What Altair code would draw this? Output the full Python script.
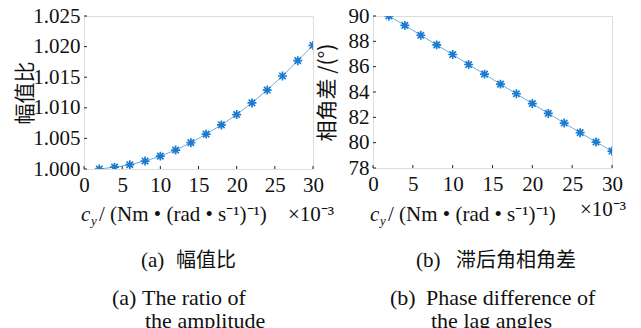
import altair as alt
import pandas as pd

# ---- data ----
cy = [2, 4, 6, 8, 10, 12, 14, 16, 18, 20, 22, 24, 26, 28, 30]
amp_ratio = [1.0000, 1.0003, 1.0007, 1.0013, 1.0021, 1.0031, 1.0043, 1.0057,
             1.0072, 1.0089, 1.0108, 1.0129, 1.0152, 1.0177, 1.0202]
phase_diff = [90.0, 89.26, 88.48, 87.72, 86.96, 86.17, 85.41, 84.62,
              83.86, 83.09, 82.31, 81.55, 80.79, 80.05, 79.34]

x_ticks = [0, 5, 10, 15, 20, 25, 30]
amp_ticks = [1.000, 1.005, 1.010, 1.015, 1.020, 1.025]
phase_ticks = [78, 80, 82, 84, 86, 88, 90]

amp_ytitle = "幅值比"
phase_ytitle = "相角差 /(°)"
xt_c, xt_sub, xt_rest, xt_exp = "c", "y", "/ (Nm • (rad • s⁻¹)⁻¹)", "×10⁻³"
# caption pieces: (label, chinese), (label, english line 1), english line 2
cap_a = ["(a)", "幅值比", "(a)", "The ratio of", "the amplitude"]
cap_b = ["(b)", "滞后角相角差", "(b)", "Phase difference of", "the lag angles"]

SERIF = "Liberation Serif"
CJK = "Noto Sans CJK SC"
LINE_C = "#6aaee6"
MARK_C = "#1b7bd0"
ASTER = "M-1,0L1,0M0,-1L0,1M-0.72,-0.72L0.72,0.72M-0.72,0.72L0.72,-0.72"

AXIS_COMMON = dict(domain=False, ticks=False, grid=False, labelFont=SERIF,
                   labelFontSize=21, labelColor="#111111", labelOverlap=False,
                   labelFlush=False)


def text_layer(txt, x, y, size, font=SERIF, style="normal", align="left"):
    return alt.Chart(pd.DataFrame({"t": [txt]})).mark_text(
        font=font, fontSize=size, fontStyle=style, align=align,
        baseline="middle", color="#111111"
    ).encode(x=alt.value(x), y=alt.value(y), text="t:N")


def panel(yvals, ydom, yticks, yfmt, ytitle, w, h, title_pad, caps, cap_x, exp_x, exp_y):
    df = pd.DataFrame({"x": cy, "y": yvals})
    xs = alt.X("x:Q", scale=alt.Scale(domain=[0, 30], nice=False),
               axis=alt.Axis(values=x_ticks, title=None, labelPadding=5, **AXIS_COMMON))
    ys = alt.Y("y:Q", scale=alt.Scale(domain=ydom, nice=False, zero=False),
               axis=alt.Axis(values=yticks, format=yfmt, title=ytitle,
                             titleFont=CJK, titleFontSize=21, titleFontWeight="normal",
                             titlePadding=title_pad, titleColor="#111111",
                             labelPadding=4, **AXIS_COMMON))
    base = alt.Chart(df).encode(x=xs, y=ys)
    line = base.mark_line(color=LINE_C, strokeWidth=1, clip=True)
    pts = base.mark_point(shape=ASTER, size=80, filled=False, color=MARK_C,
                          strokeWidth=1.7, opacity=1, clip=True)
    xtick_df = pd.DataFrame({"x": x_ticks})
    xt = alt.Chart(xtick_df).mark_rule(color="#222222", strokeWidth=1).encode(
        x=xs, y=alt.value(h), y2=alt.value(h - 3))
    ytick_df = pd.DataFrame({"y": yticks})
    yt = alt.Chart(ytick_df).mark_rule(color="#222222", strokeWidth=1).encode(
        y=ys, x=alt.value(0), x2=alt.value(3))
    layers = [line, pts, xt, yt,
              text_layer(xt_c, -3, 199, 21, style="italic"),
              text_layer(xt_sub, 7, 205, 13, style="italic"),
              text_layer(xt_rest, 15, 199, 21),
              text_layer(xt_exp, exp_x, exp_y, 21),
              text_layer(caps[0], cap_x[0], 245, 21),
              text_layer(caps[1], cap_x[1], 245, 20, font=CJK),
              text_layer(caps[2], cap_x[2], 282, 22),
              text_layer(caps[3], cap_x[3], 282, 22),
              text_layer(caps[4], cap_x[4], 305, 22)]
    return alt.layer(*layers).properties(width=w, height=h)


left = panel(amp_ratio, [1.0, 1.025], amp_ticks, ".3f", amp_ytitle, 229, 153, -3,
             cap_a, [57, 92, 28, 58, 61], 204, 199)
right = panel(phase_diff, [78, 90], phase_ticks, "d", phase_ytitle, 239, 152, 11,
              cap_b, [43, 83, 17, 53, 58], 207, 194)

chart = alt.hconcat(left, right, spacing=60, bounds="flush").properties(
    padding={"left": 6, "top": -4, "right": 5, "bottom": 0}
).configure_view(stroke="#333333", strokeWidth=1).configure(background="white")

chart.save("out.html", embed_options={"renderer": "svg", "actions": False})
